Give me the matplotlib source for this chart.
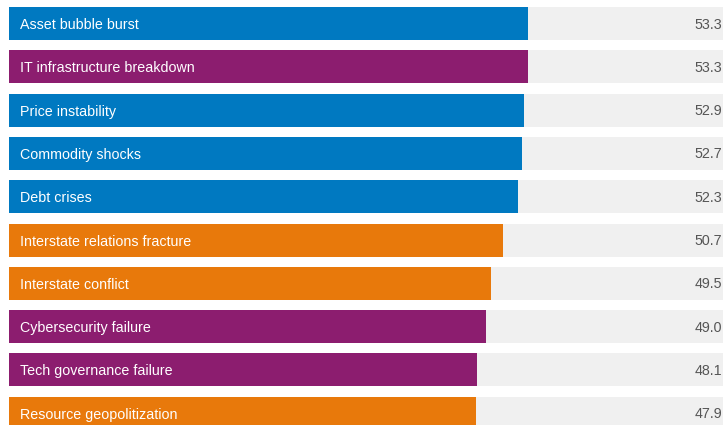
import matplotlib.pyplot as plt
import numpy as np

# Data
labels = ['Asset bubble burst', 'IT infrastructure breakdown', 'Price instability',
          'Commodity shocks', 'Debt crises', 'Interstate relations fracture',
          'Interstate conflict', 'Cybersecurity failure', 'Tech governance failure',
          'Resource geopolitization']
values = [53.3, 53.3, 52.9, 52.7, 52.3, 50.7, 49.5, 49.0, 48.1, 47.9]
groups = ['econ', 'tech', 'econ', 'econ', 'econ', 'geo', 'geo', 'tech', 'tech', 'geo']

colors = {'econ': '#0079C1', 'tech': '#8C1D6F', 'geo': '#E8790B'}

px_per_unit = 9.74
x0 = 9  # left edge of bars in pixels
W, H = 723, 425

fig = plt.figure(figsize=(W / 100, H / 100), dpi=100)
ax = fig.add_axes([0, 0, 1, 1])
ax.set_xlim(-x0 / px_per_unit, (W - x0) / px_per_unit)
ax.set_ylim(H, 0)
ax.axis('off')

step = 43.3
bar_h = 33
ypos = 23.5 + step * np.arange(len(values))
bg_max = 80

ax.barh(ypos, bg_max, height=bar_h, color='#F0F0F0', left=0)
ax.barh(ypos, values, height=bar_h, color=[colors[g] for g in groups], left=0)

for y, lab, v in zip(ypos, labels, values):
    ax.text(11 / px_per_unit, y + 1.5, lab, color='white', va='center', ha='left',
            fontsize=10.3, family='Liberation Sans')
    ax.text((W - 1 - x0) / px_per_unit, y + 1, f'{v:.1f}', color='#555555',
            va='center', ha='right', fontsize=10.3, family='Liberation Sans')

fig.savefig('out.png', dpi=100)
